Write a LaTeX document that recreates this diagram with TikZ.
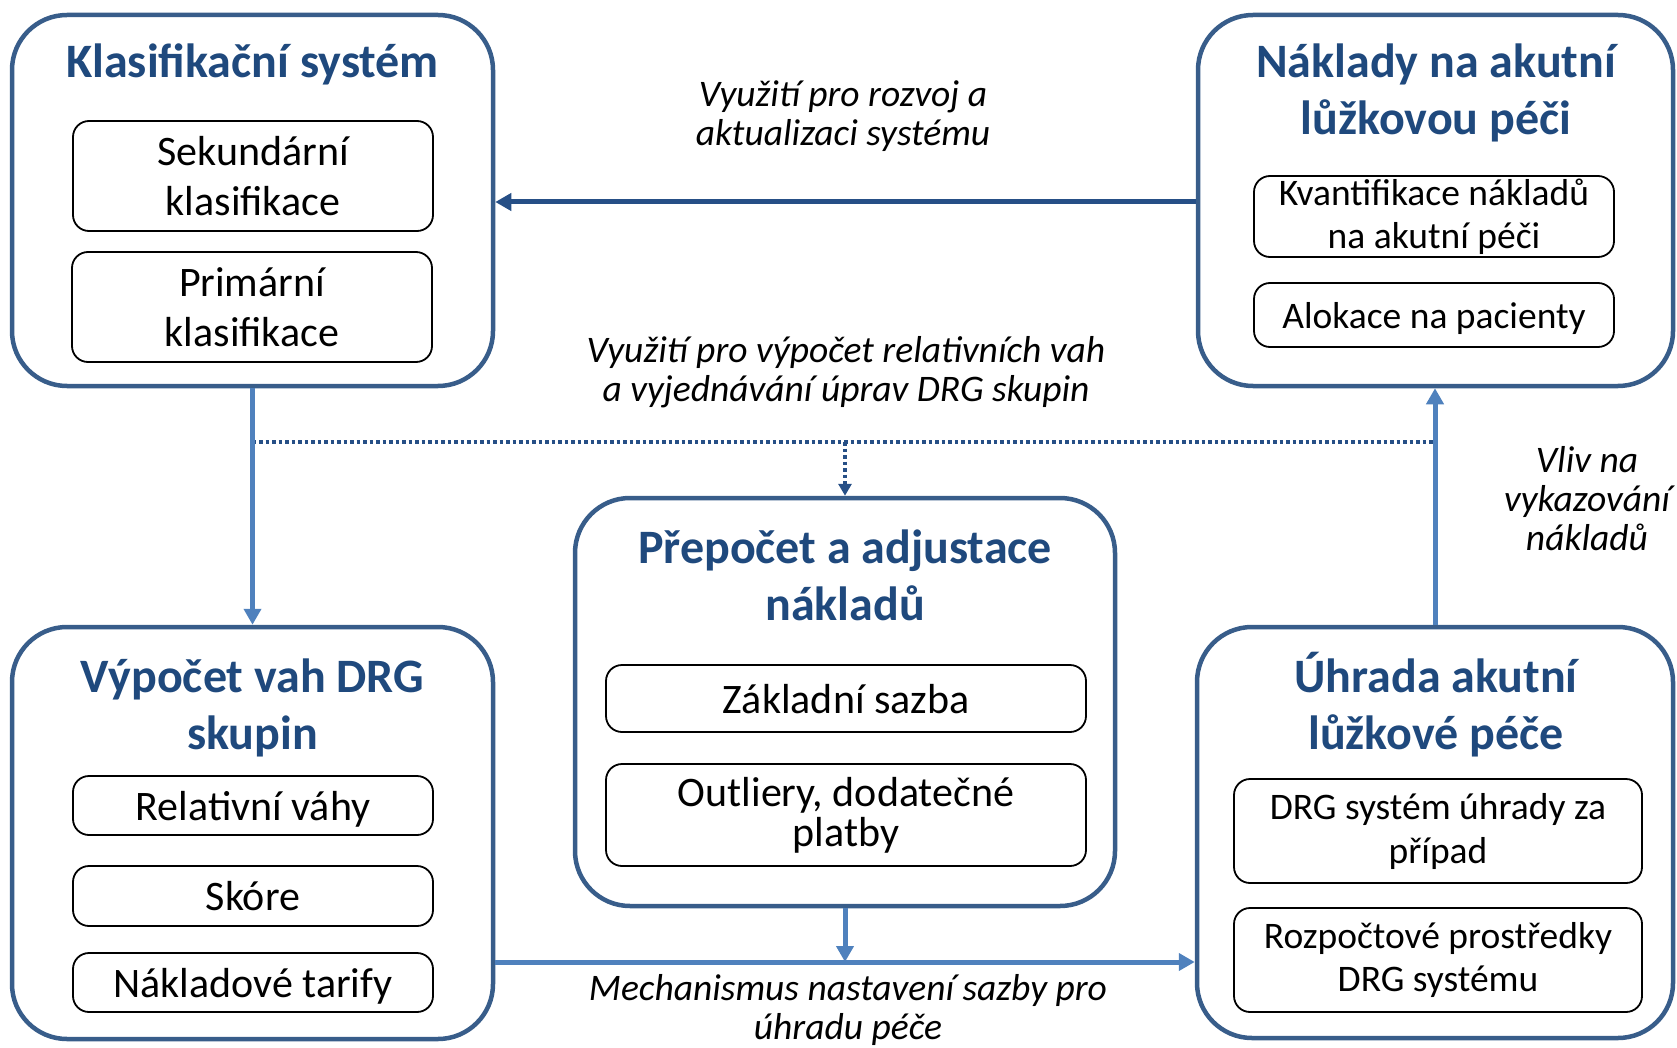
\documentclass[tikz,border=0pt]{standalone}
\usepackage{fontspec}
\setmainfont{Carlito}
\usetikzlibrary{arrows.meta}
\definecolor{frameblue}{HTML}{385D8A}
\definecolor{titleblue}{HTML}{1F497D}
\definecolor{arrowblue}{HTML}{4F81BD}
\definecolor{darkarrow}{HTML}{264F86}
\begin{document}
\begin{tikzpicture}[x=1pt,y=-1pt,
  outerbox/.style={draw=frameblue, line width=4.5pt, rounded corners=55pt, inner sep=0pt, fill=white},
  subbox/.style={draw=black, line width=1.8pt, rounded corners=16pt, inner sep=0pt, align=center, text=black},
  bigsub/.style={subbox, font=\fontsize{42}{50}\selectfont},
  smallsub/.style={subbox, font=\fontsize{37.5}{44}\selectfont},
  bigone/.style={bigsub, text height=29pt, text depth=0pt},
  smallone/.style={smallsub, text height=26pt, text depth=0pt},
  ttl/.style={anchor=base, inner sep=0pt, text=titleblue, font=\fontsize{48}{57}\selectfont\bfseries},
  lbl/.style={anchor=base, inner sep=0pt, text=black, font=\fontsize{37.5}{39}\selectfont\itshape},
  flow/.style={draw=arrowblue, line width=5pt, -{Triangle[width=17pt,length=16pt]}},
  back/.style={draw=darkarrow, line width=5pt, -{Triangle[width=17pt,length=16pt]}},
  dots/.style={draw=darkarrow, line width=3.2pt, dash pattern=on 3.5pt off 3pt},
]
\useasboundingbox (0,0) rectangle (1677,1048);

% outer boxes
\node[outerbox, minimum width=481pt, minimum height=371pt] (b1) at (252.5,200.5) {};
\node[outerbox, minimum width=475pt, minimum height=371pt] (b2) at (1435.5,200.5) {};
\node[outerbox, minimum width=540pt, minimum height=408pt] (b3) at (845,702) {};
\node[outerbox, minimum width=481pt, minimum height=412pt] (b4) at (252.5,833) {};
\node[outerbox, minimum width=476pt, minimum height=411pt] (b5) at (1435,832.5) {};

% titles
\node[ttl] (t1) at (252.5,78) {Klasifikační systém};
\node[ttl] (t2) at (1436,78) {\begin{tabular}[t]{@{}c@{}}Náklady na akutní\\lůžkovou péči\end{tabular}};
\node[ttl] (t3) at (845,563) {\begin{tabular}[t]{@{}c@{}}Přepočet a adjustace\\nákladů\end{tabular}};
\node[ttl] (t4) at (252.5,692) {\begin{tabular}[t]{@{}c@{}}Výpočet vah DRG\\skupin\end{tabular}};
\node[ttl] (t5) at (1436,692) {\begin{tabular}[t]{@{}c@{}}Úhrada akutní\\lůžkové péče\end{tabular}};

% inner boxes
\node[bigsub, minimum width=360pt, minimum height=110pt] (s11) at (253,176) {Sekundární\\klasifikace};
\node[bigsub, minimum width=360pt, minimum height=110pt] (s12) at (252,307) {Primární\\klasifikace};

\node[smallsub, minimum width=360pt, minimum height=81pt, font=\fontsize{37.5}{43}\selectfont] (s21) at (1434,216.5) {Kvantifikace nákladů\\na akutní péči};
\node[smallone, minimum width=360pt, minimum height=64pt] (s22) at (1434,315) {Alokace na pacienty};

\node[bigone, minimum width=480pt, minimum height=67pt] (s31) at (846,698.5) {Základní sazba};
\node[bigsub, minimum width=480pt, minimum height=102pt, font=\fontsize{42}{40}\selectfont] (s32) at (846,815) {Outliery, dodatečné\\platby};

\node[bigone, minimum width=360pt, minimum height=59pt] (s41) at (253,805.5) {Relativní váhy};
\node[bigone, minimum width=360pt, minimum height=60pt] (s42) at (253,896) {Skóre};
\node[bigone, minimum width=360pt, minimum height=59pt] (s43) at (253,982.5) {Nákladové tarify};

\node[smallsub, minimum width=408pt, minimum height=104pt] (s51) at (1438,831) {DRG systém úhrady za\\případ};
\node[smallsub, minimum width=408pt, minimum height=104pt, font=\fontsize{37.5}{43}\selectfont] (s52) at (1438,960) {Rozpočtové prostředky\\DRG systému};

% helper coordinates
\coordinate (ty) at (0,202);
\coordinate (dy) at (0,442);
\coordinate (hy) at (0,962);

% dotted connector
\draw[dots] (b1.south |- dy) -- (b5.north |- dy);
\draw[dots, -{Triangle[width=13pt,length=12pt]}] (b3.north |- dy) -- (b3.north);

% solid connectors
\draw[back] (b2.west |- ty) -- (b1.east |- ty);
\draw[flow] (b1.south) -- (b4.north);
\draw[flow] (b5.north) -- (b5.north |- b2.south);
\draw[flow] (b4.east |- hy) -- (b5.west |- hy);
\draw[flow] (b3.south) -- (b3.south |- hy);

% labels
\node[lbl] (l1) at (843,107) {\begin{tabular}[t]{@{}c@{}}Využití pro rozvoj a\\aktualizaci systému\end{tabular}};
\node[lbl] (l2) at (846,362) {\begin{tabular}[t]{@{}c@{}}Využití pro výpočet relativních vah\\a vyjednávání úprav DRG skupin\end{tabular}};
\node[lbl] (l3) at (1587,472) {\begin{tabular}[t]{@{}c@{}}Vliv na\\vykazování\\nákladů\end{tabular}};
\node[lbl] (l4) at (848,1000) {\begin{tabular}[t]{@{}c@{}}Mechanismus nastavení sazby pro\\úhradu péče\end{tabular}};
\end{tikzpicture}
\end{document}
